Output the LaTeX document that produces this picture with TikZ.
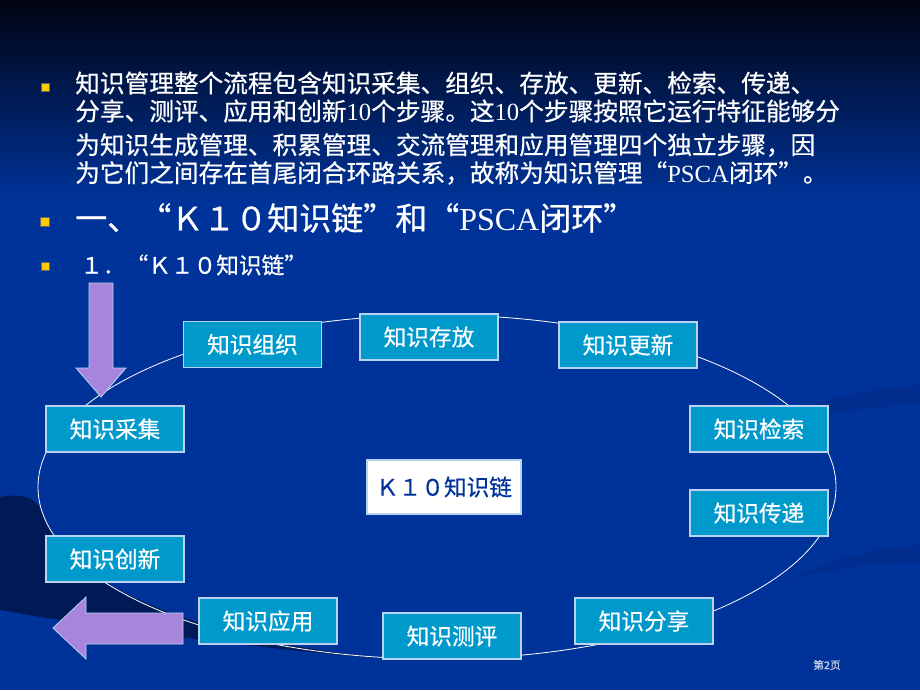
\documentclass[tikz,border=0pt]{standalone}
\usepackage{fontspec}
\setmainfont{Liberation Serif}
\newfontfamily\cjk[FakeBold=0.6]{Noto Sans CJK SC}
\definecolor{slideblue}{RGB}{0,51,153}
\definecolor{slidetop}{RGB}{0,4,18}
\definecolor{swoosh}{RGB}{0,26,88}
\definecolor{swooshlight}{RGB}{0,45,142}
\definecolor{stepteal}{RGB}{0,153,204}
\definecolor{stepedge}{RGB}{185,210,240}
\definecolor{arrowlilac}{RGB}{168,133,220}
\definecolor{bulletyellow}{RGB}{255,204,0}
\definecolor{pagegray}{RGB}{200,210,235}
\tikzset{
  stepbox/.style={draw=stepedge, line width=0.8pt, fill=stepteal, text=white,
    minimum width=103.5pt, minimum height=34.5pt, inner sep=0pt,
    font=\cjk\fontsize{17}{20}\selectfont},
  hubbox/.style={stepbox, fill=white, text=slideblue, minimum width=115.5pt, minimum height=40.5pt},
  bodytext/.style={anchor=west, text=white, inner sep=0pt, font=\cjk\fontsize{18.5}{22}\selectfont},
  bulletbox/.style={fill=bulletyellow, draw=black!60, line width=0.3pt, minimum size=6pt, inner sep=0pt},
  blockarrow/.style={fill=arrowlilac, draw=stepedge, line width=0.6pt, line join=miter},
}

\begin{document}
\begin{tikzpicture}[x=0.75pt, y=-0.75pt]
\useasboundingbox (0,0) rectangle (920,690);

% slide background
\shade[top color=slidetop, bottom color=slideblue] (0,0) rectangle (920,200);
\fill[slideblue] (0,199) rectangle (920,690);
\fill[swoosh] (0,497) .. controls (30,492) and (38,500) .. (45,520)
  .. controls (80,590) and (200,640) .. (390,659)
  .. controls (250,648) and (100,628) .. (0,610) -- cycle;
\fill[swooshlight] (920,385) .. controls (850,390) and (780,410) .. (740,440)
  .. controls (790,420) and (860,405) .. (920,405) -- cycle;
\fill[swooshlight] (920,545) .. controls (870,548) and (830,560) .. (790,580)
  .. controls (835,568) and (880,562) .. (920,562) -- cycle;

% text
\node[bulletbox] (b1) at (45,87) {};
\node[bodytext] (l1) at (75,83) {知识管理整个流程包含知识采集、组织、存放、更新、检索、传递、};
\node[bodytext] (l2) at (75,111) {分享、测评、应用和创新{\rmfamily 10}个步骤。这{\rmfamily 10}个步骤按照它运行特征能够分};
\node[bodytext] (l3) at (75,145) {为知识生成管理、积累管理、交流管理和应用管理四个独立步骤，因};
\node[bodytext] (l4) at (75,173) {为它们之间存在首尾闭合环路关系，故称为知识管理“{\rmfamily PSCA}闭环”。};

\node[bulletbox, minimum size=7pt] (b2) at (45,222) {};
\node[bodytext, font=\cjk\fontsize{24}{28}\selectfont] (head) at (75,218) {一、“Ｋ１０知识链”和“{\rmfamily PSCA}闭环”};
\node[bulletbox] (b3) at (45,266) {};
\node[bodytext, font=\cjk\fontsize{17}{20}\selectfont] (sub) at (80,265) {１．“Ｋ１０知识链”};

% chain
\draw[white, line width=0.6pt] (437,487) ellipse [x radius=299.25pt, y radius=129pt];

\node[stepbox] (zuzhi) at (252.5,344.5) {知识组织};
\node[stepbox] (cunfang) at (429,337) {知识存放};
\node[stepbox] (gengxin) at (628,345) {知识更新};
\node[stepbox] (caiji) at (115,429) {知识采集};
\node[stepbox] (jiansuo) at (759,429) {知识检索};
\node[stepbox] (chuandi) at (759,513) {知识传递};
\node[stepbox] (chuangxin) at (115,559) {知识创新};
\node[stepbox] (yingyong) at (268,621) {知识应用};
\node[stepbox] (ceping) at (452,636) {知识测评};
\node[stepbox] (fenxiang) at (644,621) {知识分享};
\node[hubbox] (hub) at (444,487) {Ｋ１０知识链};

% in and out arrows
\draw[blockarrow] (89,283) -- (113,283) -- (113,368) -- (126,368) -- (101,397)
  -- (76,368) -- (89,368) -- cycle;
\draw[blockarrow] (183,613) -- (183,644) -- (86,644) -- (86,659) -- (53,628)
  -- (86,597) -- (86,613) -- cycle;

\node[text=pagegray, font=\cjk\fontsize{8}{10}\selectfont] (page) at (827,665) {第2页};
\end{tikzpicture}
\end{document}
